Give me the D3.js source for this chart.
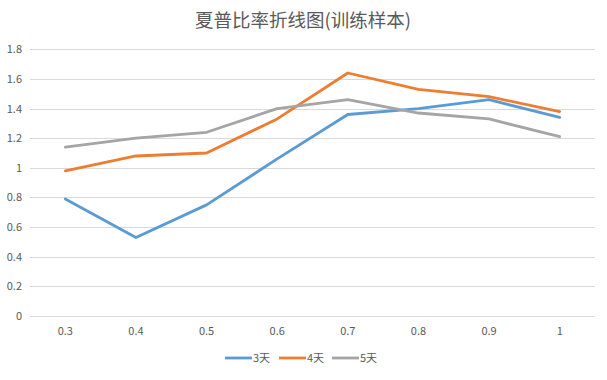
<!DOCTYPE html>
<html>
<head>
<meta charset="utf-8">
<script src="https://cdn.jsdelivr.net/npm/d3@7"></script>
<style>
  body { margin: 0; background: #fff; }
  svg text { font-family: "Noto Sans CJK SC", "Noto Sans", sans-serif; fill: #595959; }
</style>
</head>
<body>
<svg id="chart" width="607" height="380"></svg>
<script>
const categories = ["0.3", "0.4", "0.5", "0.6", "0.7", "0.8", "0.9", "1"];
const seriesNames = ["3天", "4天", "5天"];
const days3 = [0.79, 0.53, 0.75, 1.06, 1.36, 1.40, 1.46, 1.34];
const days4 = [0.98, 1.08, 1.10, 1.33, 1.64, 1.53, 1.48, 1.38];
const days5 = [1.14, 1.20, 1.24, 1.40, 1.46, 1.37, 1.33, 1.21];
const yTicks = [0, 0.2, 0.4, 0.6, 0.8, 1, 1.2, 1.4, 1.6, 1.8];
const colors = ["#5B9BD5", "#ED7D31", "#A5A5A5"];

const svg = d3.select("#chart");
const plotLeft = 30, plotRight = 595, plotTop = 49.3, plotBottom = 316;

const x = d3.scaleBand().domain(categories).range([plotLeft, plotRight]);
const y = d3.scaleLinear().domain([0, 1.8]).range([plotBottom, plotTop]);

// title
svg.append("text")
  .attr("x", 303).attr("y", 27)
  .attr("text-anchor", "middle")
  .style("font-size", "18.5px")
  .text("夏普比率折线图(训练样本)");

// gridlines
svg.append("g").selectAll("line")
  .data(yTicks).enter().append("line")
  .attr("x1", plotLeft).attr("x2", plotRight)
  .attr("y1", d => Math.round(y(d)) + 0.5)
  .attr("y2", d => Math.round(y(d)) + 0.5)
  .attr("stroke", "#D9D9D9").attr("stroke-width", 1);

// y labels
svg.append("g").selectAll("text")
  .data(yTicks).enter().append("text")
  .attr("x", 22).attr("y", d => y(d) + 4)
  .attr("text-anchor", "end")
  .style("font-size", "11px")
  .text(d => d3.format("~g")(d));

// x labels
svg.append("g").selectAll("text")
  .data(categories).enter().append("text")
  .attr("x", d => x(d) + x.bandwidth() / 2).attr("y", 335)
  .attr("text-anchor", "middle")
  .style("font-size", "11px")
  .text(d => d);

// lines
const line = d3.line()
  .x((d, i) => x(categories[i]) + x.bandwidth() / 2)
  .y(d => y(d));

[days3, days4, days5].forEach((vals, k) => {
  svg.append("path")
    .datum(vals)
    .attr("d", line)
    .attr("fill", "none")
    .attr("stroke", colors[k])
    .attr("stroke-width", 2.8)
    .attr("stroke-linejoin", "round")
    .attr("stroke-linecap", "round");
});

// legend
const legendX = [225, 279, 332];
const legend = svg.append("g").selectAll("g")
  .data(seriesNames).enter().append("g")
  .attr("transform", (d, i) => `translate(${legendX[i]},358)`);
legend.append("line")
  .attr("x1", 0).attr("x2", 27)
  .attr("stroke", (d, i) => colors[i])
  .attr("stroke-width", 2.8);
legend.append("text")
  .attr("x", 28).attr("y", 4)
  .style("font-size", "11px")
  .text(d => d);
</script>
</body>
</html>
